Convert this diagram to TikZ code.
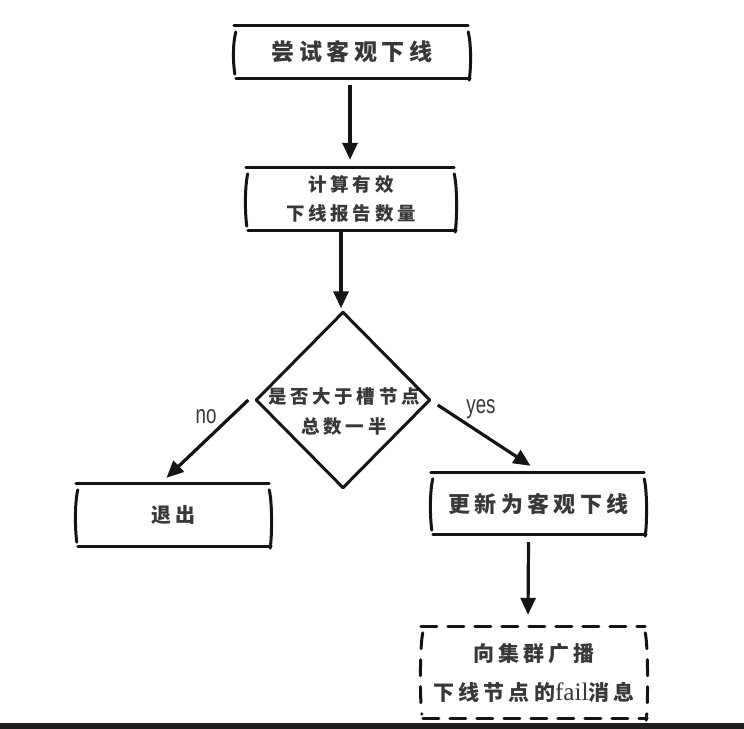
\documentclass[tikz,border=0pt]{standalone}
\usepackage{fontspec}
\newfontfamily\cjk[LetterSpace=20]{Noto Sans CJK SC}
\newfontfamily\serifpart[Scale=1.2]{Liberation Serif}
\newfontfamily\handlat[FakeStretch=0.72]{Liberation Sans}
\usetikzlibrary{arrows.meta,shapes.geometric}
\definecolor{ink}{HTML}{141414}
\definecolor{txt}{HTML}{383838}
\definecolor{barcol}{HTML}{1F1F1F}

\tikzset{
  frame/.style={draw=ink, line width=3pt, line cap=round, line join=round},
  dashframe/.style={frame, dash pattern=on 16pt off 11pt},
  box/.style={inner sep=0pt, text=txt, align=center},
  flow/.style={draw=ink, line width=3.2pt, -{Triangle[length=17pt,width=15pt]}},
  lbl/.style={text=txt, font=\handlat\fontsize{26pt}{28pt}\selectfont, anchor=base, inner sep=0pt},
}

% sketchy rectangle: long top and bottom strokes, bracket-like sides
\newcommand\sketchframe[2][frame]{%
  \draw[#1] ([xshift=-4pt]#2.north west) -- ([xshift=2pt]#2.north east);
  \draw[#1] ([xshift=-2pt]#2.south west) -- ([xshift=4pt]#2.south east);
  \draw[#1] ([xshift=-2pt,yshift=-6pt]#2.north west)
     .. controls +(-3pt,-12pt) and +(-2pt,14pt) .. ([xshift=-3pt,yshift=4pt]#2.south west);
  \draw[#1] ([xshift=2pt,yshift=-6pt]#2.north east)
     .. controls +(3pt,-12pt) and +(2pt,14pt) .. ([xshift=3pt,yshift=-2pt]#2.south east);
}

\begin{document}
\begin{tikzpicture}[x=1pt,y=-1pt]
\useasboundingbox (0,0) rectangle (744,728);
\fill[white] (0,0) rectangle (744,728);
\fill[barcol] (0,723) rectangle (744,730);

% process steps
\node[box, minimum width=228pt, minimum height=52pt,
      font=\cjk\bfseries\fontsize{23pt}{28pt}\selectfont] (b1) at (352,52) {尝试客观下线};
\node[box, minimum width=202pt, minimum height=62pt,
      font=\cjk\bfseries\fontsize{18.5pt}{29pt}\selectfont] (b2) at (351,199) {计算有效\\下线报告数量};
\node[diamond, minimum width=173pt, minimum height=175pt, inner sep=0pt] (d) at (343,400) {};
\node[box, font=\cjk\bfseries\fontsize{18.5pt}{30pt}\selectfont] (dq) at (344,412) {是否大于槽节点\\总数一半};
\node[box, minimum width=187pt, minimum height=62pt,
      font=\cjk\bfseries\fontsize{20pt}{24pt}\selectfont] (quit) at (173.5,515) {退出};
\node[box, minimum width=207pt, minimum height=61pt,
      font=\cjk\bfseries\fontsize{22pt}{26pt}\selectfont] (mark) at (538.5,503.5) {更新为客观下线};
\node[box, minimum width=218pt, minimum height=91pt,
      font=\cjk\bfseries\fontsize{21pt}{39pt}\selectfont] (bcast) at (534,672.5)
      {向集群广播\\下线节点的{\serifpart\mdseries fail}消息};

% outlines
\sketchframe{b1}
\sketchframe{b2}
\sketchframe{quit}
\sketchframe{mark}
\sketchframe[dashframe]{bcast}
\draw[frame] (d.north) -- (d.east) -- (d.south) -- (d.west) -- cycle;

% connectors
\draw[flow] ([xshift=-2pt,yshift=-7pt]b1.south) -- ([xshift=-1pt,yshift=8pt]b2.north);
\draw[flow] ([xshift=-10pt]b2.south) -- ([xshift=-2pt,yshift=4pt]d.north);
\draw[flow] ([xshift=-8pt]d.west) -- ([xshift=-7pt,yshift=6pt]quit.north);
\draw[flow] ([xshift=8pt,yshift=-5pt]d.east) -- ([xshift=-8pt,yshift=7pt]mark.north);
\draw[flow] ([xshift=-10pt,yshift=-8pt]mark.south) -- ([xshift=-6pt,yshift=12pt]bcast.north);

% branch labels
\node[lbl] (no) at (206,423) {no};
\node[lbl] (yes) at (481,413) {yes};
\end{tikzpicture}
\end{document}
